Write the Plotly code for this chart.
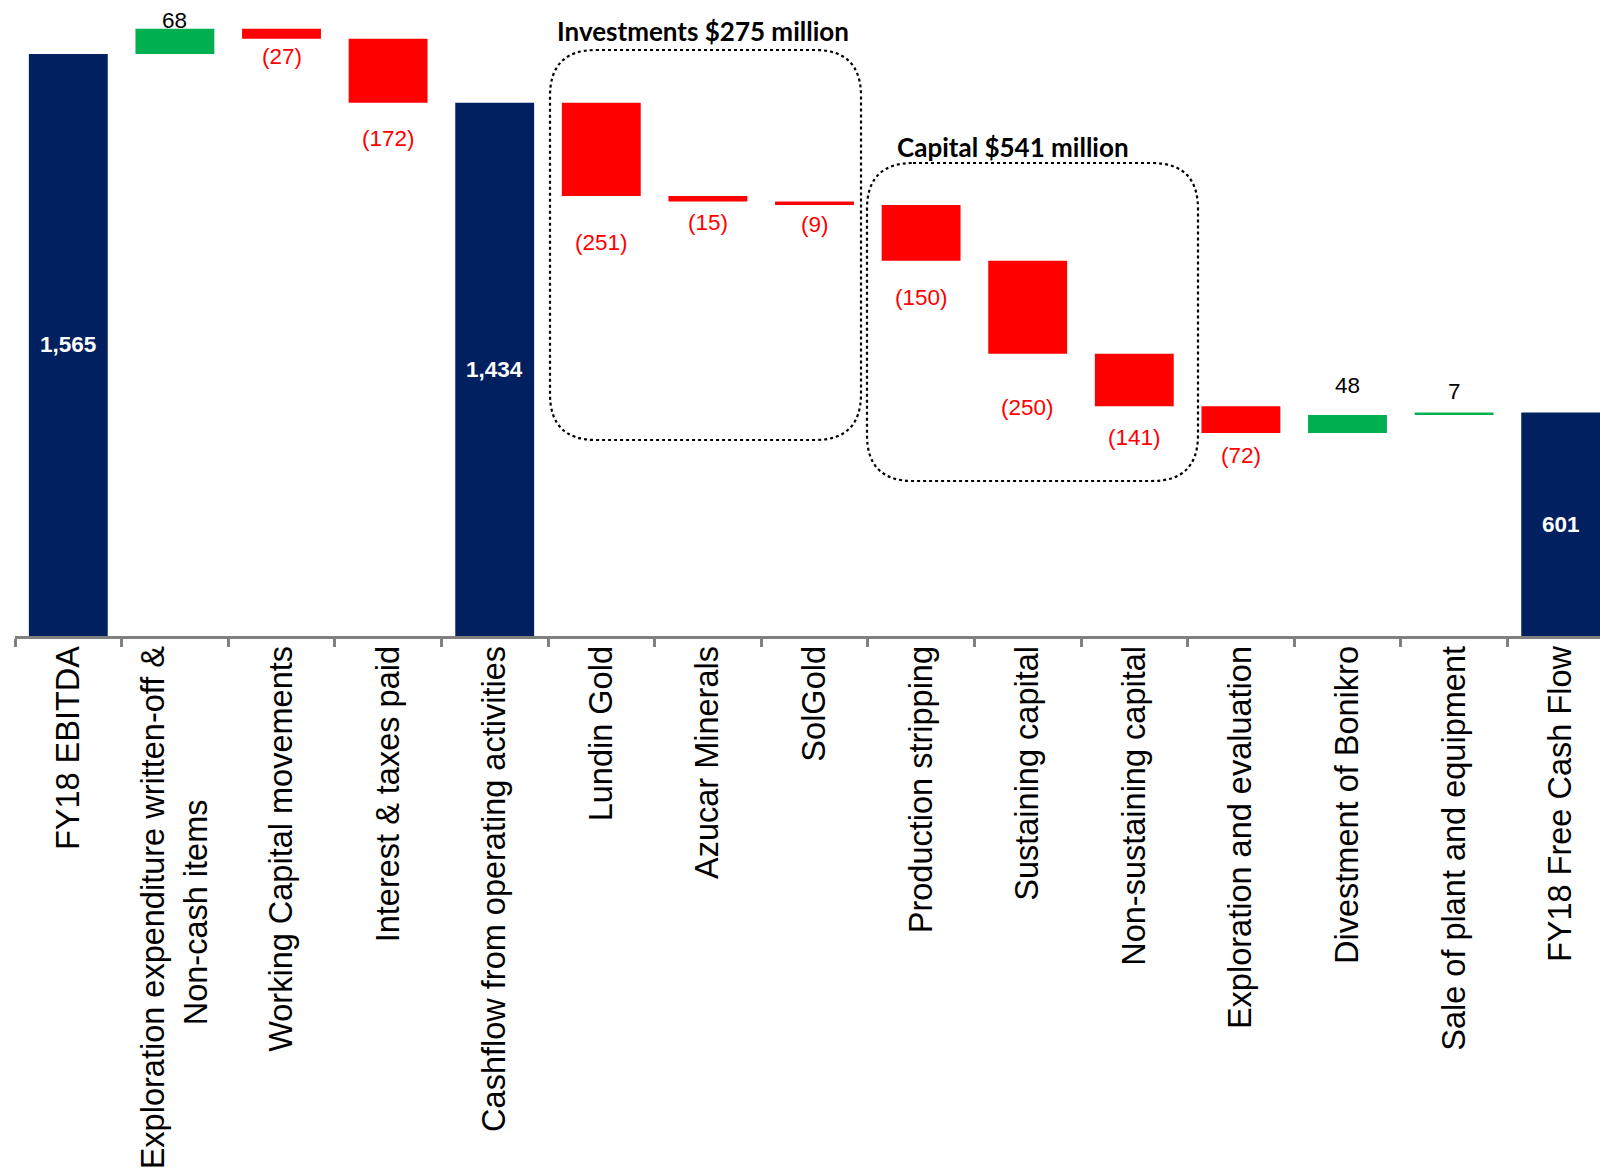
import plotly.graph_objects as go

NBSP = "\u00a0"

categories = [
    "FY18 EBITDA",
    "Exploration expenditure written-off &<br>Non-cash items" + NBSP * 17,
    "Working Capital movements",
    "Interest & taxes paid",
    "Cashflow from operating activities",
    "Lundin Gold",
    "Azucar Minerals",
    "SolGold",
    "Production stripping",
    "Sustaining capital",
    "Non-sustaining capital",
    "Exploration and evaluation",
    "Divestment of Bonikro",
    "Sale of plant and equipment",
    "FY18 Free Cash Flow",
]
measures = ["absolute", "relative", "relative", "relative", "total",
            "relative", "relative", "relative", "relative", "relative",
            "relative", "relative", "relative", "relative", "total"]
values = [1565, 68, -27, -172, 0, -251, -15, -9, -150, -250, -141, -72, 48, 7, 0]

group_titles = ["Investments $275 million", "Capital $541 million"]

# label vertical offsets in px (positive = further from bar end, away from the bar)
label_offsets = [0, 8, 18, 36, 0, 46, 21, 20, 37, 54, 31, 23, 30, 21, 0]

NAVY = "#002060"
GREEN = "#00B050"
RED = "#FF0000"
GRAY = "#808080"

W, H = 1600, 1174
PLOT_L, PLOT_R = 15, 1600
AXIS_Y = 636
PX_PER_CAT = 106.6
PX_PER_UNIT = 0.3719
x_max = (PLOT_R - PLOT_L) / PX_PER_CAT - 0.5
y_max = AXIS_Y / PX_PER_UNIT

fig = go.Figure()
fig.add_trace(go.Waterfall(
    x=categories,
    y=values,
    measure=measures,
    width=0.74,
    increasing=dict(marker=dict(color=GREEN)),
    decreasing=dict(marker=dict(color=RED)),
    totals=dict(marker=dict(color=NAVY)),
    connector=dict(visible=False),
    hoverinfo="skip",
))

# compute bar extents
ends = []
running = 0
for m, v in zip(measures, values):
    if m == "absolute":
        running = v
    elif m == "relative":
        running += v
    ends.append(running)

annotations = []
for i, (m, v, e) in enumerate(zip(measures, values, ends)):
    if m in ("absolute", "total"):
        annotations.append(dict(
            x=categories[i], y=e / 2, text=f"<b>{e:,}</b>", showarrow=False,
            font=dict(family="Liberation Sans", size=22.5, color="white"),
            xanchor="center", yanchor="middle"))
    elif v < 0:
        annotations.append(dict(
            x=categories[i], y=e, text=f"({-v})", showarrow=False,
            font=dict(family="Liberation Sans", size=22.5, color=RED),
            xanchor="center", yanchor="middle", yshift=-label_offsets[i]))
    else:
        annotations.append(dict(
            x=categories[i], y=e, text=f"{v}", showarrow=False,
            font=dict(family="Liberation Sans", size=22.5, color="black"),
            xanchor="center", yanchor="middle", yshift=label_offsets[i]))


def px_to_x(px):
    return (px - PLOT_L) / PX_PER_CAT - 0.5


def px_to_y(py):
    return (AXIS_Y - py) / PX_PER_UNIT


def rounded_rect(x0, x1, y0, y1, r_px):
    rx = r_px / PX_PER_CAT
    ry = r_px / PX_PER_UNIT
    return (f"M {x0+rx},{y1} L {x1-rx},{y1} Q {x1},{y1} {x1},{y1-ry} "
            f"L {x1},{y0+ry} Q {x1},{y0} {x1-rx},{y0} "
            f"L {x0+rx},{y0} Q {x0},{y0} {x0},{y0+ry} "
            f"L {x0},{y1-ry} Q {x0},{y1} {x0+rx},{y1} Z")


boxes = [
    (px_to_x(550), px_to_x(861), px_to_y(440), px_to_y(50)),
    (px_to_x(867), px_to_x(1198), px_to_y(481), px_to_y(163)),
]
title_pos = [(px_to_x(703), px_to_y(31)), (px_to_x(1013), px_to_y(147))]

shapes = []
for (x0, x1, y0, y1) in boxes:
    shapes.append(dict(type="path", xref="x", yref="y",
                       path=rounded_rect(x0, x1, y0, y1, 46),
                       line=dict(color="black", width=2.2, dash="dot")))

for t, (tx, ty) in zip(group_titles, title_pos):
    annotations.append(dict(
        x=tx, y=ty, xref="x", yref="y", text=f"<b>{t}</b>", showarrow=False,
        font=dict(family="Lato", size=26, color="black"),
        xanchor="center", yanchor="middle"))

fig.update_layout(
    width=W, height=H,
    margin=dict(l=PLOT_L, r=W - PLOT_R, t=0, b=H - AXIS_Y, autoexpand=False),
    paper_bgcolor="white", plot_bgcolor="white",
    showlegend=False,
    annotations=annotations,
    shapes=shapes,
    xaxis=dict(
        type="category",
        range=[-0.5, x_max],
        automargin=False,
        showline=True, linecolor=GRAY, linewidth=3,
        ticks="outside", tickson="boundaries", ticklen=8, tickwidth=3, tickcolor=GRAY,
        tickangle=-90,
        ticklabelstandoff=-6,
        tickfont=dict(family="Liberation Sans", size=32.5, color="black"),
        showgrid=False, zeroline=False,
    ),
    yaxis=dict(
        range=[0, y_max], visible=False, showgrid=False, zeroline=False,
        automargin=False,
    ),
)

fig.write_html(
    "out.html",
    config={"displayModeBar": False},
    post_script="document.body.style.margin='0';document.body.style.overflow='hidden';",
)
